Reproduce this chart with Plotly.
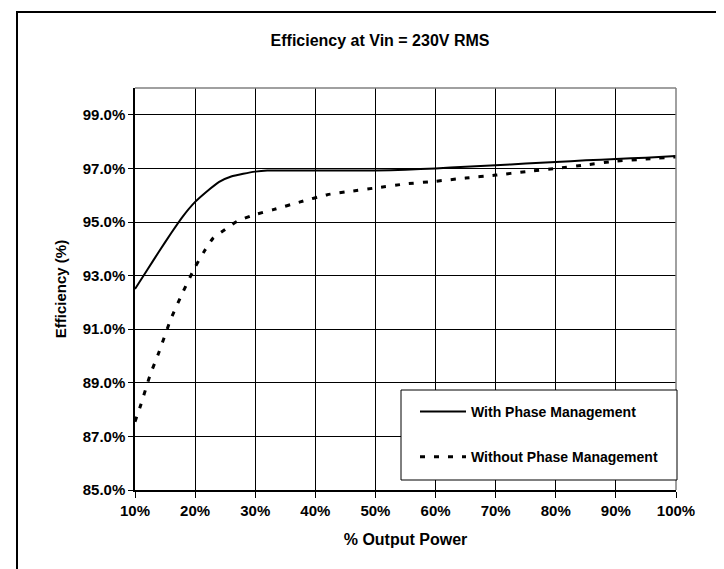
import plotly.graph_objects as go

# ---- data ----
power_with = [10, 12, 14, 16, 18, 20, 22, 24, 26, 28, 30, 32, 35, 40, 45, 50, 55, 60, 65, 70, 75, 80, 85, 90, 95, 100]
eff_with = [92.5, 93.2, 93.9, 94.58, 95.22, 95.75, 96.15, 96.5, 96.7, 96.8, 96.88, 96.92, 96.92, 96.92, 96.92, 96.92, 96.95,
            97.0, 97.06, 97.12, 97.18, 97.24, 97.3, 97.35, 97.4, 97.46]

power_without = [10, 11, 12.5, 14, 16, 18, 20, 21.5, 23, 25, 27, 30, 33, 37.5, 42, 46, 50, 55, 60, 65, 70, 75, 80, 85, 90, 95, 100]
eff_without = [87.55, 88.2, 89.28, 90.15, 91.4, 92.4, 93.32, 93.9, 94.4, 94.72, 95.03, 95.28, 95.46, 95.75, 96.02, 96.15,
               96.27, 96.42, 96.52, 96.64, 96.75, 96.88, 97.0, 97.13, 97.27, 97.35, 97.43]

x_ticks = [10, 20, 30, 40, 50, 60, 70, 80, 90, 100]
x_tick_labels = ["10%", "20%", "30%", "40%", "50%", "60%", "70%", "80%", "90%", "100%"]
y_ticks = [85, 87, 89, 91, 93, 95, 97, 99]
y_tick_labels = ["85.0%", "87.0%", "89.0%", "91.0%", "93.0%", "95.0%", "97.0%", "99.0%"]

series_names = ["With Phase Management", "Without Phase Management"]
title_text = "Efficiency at Vin = 230V RMS"
x_title = "% Output Power"
y_title = "Efficiency (%)"

FONT = "Arial, 'Liberation Sans', sans-serif"

fig = go.Figure()
fig.add_trace(go.Scatter(
    x=power_with, y=eff_with, mode="lines", name="<b>" + series_names[0] + "</b>",
    line=dict(color="black", width=2, shape="spline", smoothing=0.5),
    legendgroup="a",
))
fig.add_trace(go.Scatter(
    x=power_without, y=eff_without, mode="lines", name="<b>" + series_names[1] + "</b>",
    line=dict(color="black", width=3, dash="5px,9px", shape="spline", smoothing=0.5),
    legendgroup="b",
))

W, H = 724, 569
L, R, T, B = 127, 56, 80, 87
pw, ph = W - L - R, H - T - B

def px_x(v):
    return (v - L) / pw

def px_y(v):
    return (H - B - v) / ph

shapes = []
# outer chart frame
shapes.append(dict(type="rect", xref="paper", yref="paper",
                   x0=px_x(9), x1=px_x(721), y0=px_y(567), y1=px_y(4),
                   line=dict(color="black", width=2), fillcolor="rgba(0,0,0,0)", layer="below"))
# top and right plot border (gray)
shapes.append(dict(type="line", xref="paper", yref="paper", x0=0, x1=1, y0=1, y1=1,
                   line=dict(color="#808080", width=1.5), layer="above"))
shapes.append(dict(type="line", xref="paper", yref="paper", x0=1, x1=1, y0=0, y1=1,
                   line=dict(color="#808080", width=1.5), layer="above"))
# legend box
shapes.append(dict(type="rect", xref="paper", yref="paper",
                   x0=px_x(393), x1=px_x(669), y0=px_y(472), y1=px_y(382),
                   line=dict(color="black", width=1), fillcolor="white", layer="above"))

fig.update_layout(
    width=W, height=H, autosize=False,
    margin=dict(l=L, r=R, t=T, b=B, pad=0),
    paper_bgcolor="white", plot_bgcolor="white",
    font=dict(family=FONT, color="black", size=15),
    title=dict(text="<b>" + title_text + "</b>", x=372 / W, xanchor="center",
               y=1 - 32 / H, yanchor="middle", font=dict(size=16, family=FONT, color="black")),
    showlegend=True,
    legend=dict(x=px_x(407), y=px_y(388), xanchor="left", yanchor="top",
                bgcolor="rgba(0,0,0,0)", borderwidth=0, itemwidth=46,
                font=dict(size=14, family=FONT, color="black"),
                traceorder="grouped", tracegroupgap=24),
    shapes=shapes,
)

fig.update_xaxes(
    range=[10, 100], tickmode="array", tickvals=x_ticks, ticktext=["<b>" + t + "</b>" for t in x_tick_labels],
    showgrid=True, gridcolor="black", gridwidth=1,
    showline=True, linecolor="black", linewidth=1.5,
    ticks="outside", ticklen=6, tickcolor="black",
    tickfont=dict(size=15, family=FONT, color="black"),
    title=dict(text="<b>" + x_title + "</b>", font=dict(size=16, family=FONT, color="black"), standoff=16),
    zeroline=False,
)
fig.update_yaxes(
    range=[85, 100], tickmode="array", tickvals=y_ticks, ticktext=["<b>" + t + "</b>" for t in y_tick_labels],
    showgrid=True, gridcolor="black", gridwidth=1,
    showline=True, linecolor="black", linewidth=1.5,
    ticks="outside", ticklen=5, tickcolor="black",
    tickfont=dict(size=15, family=FONT, color="black"),
    title=dict(text="<b>" + y_title + "</b>", font=dict(size=15, family=FONT, color="black"), standoff=12),
    zeroline=False,
)

fig.write_html("out.html")
